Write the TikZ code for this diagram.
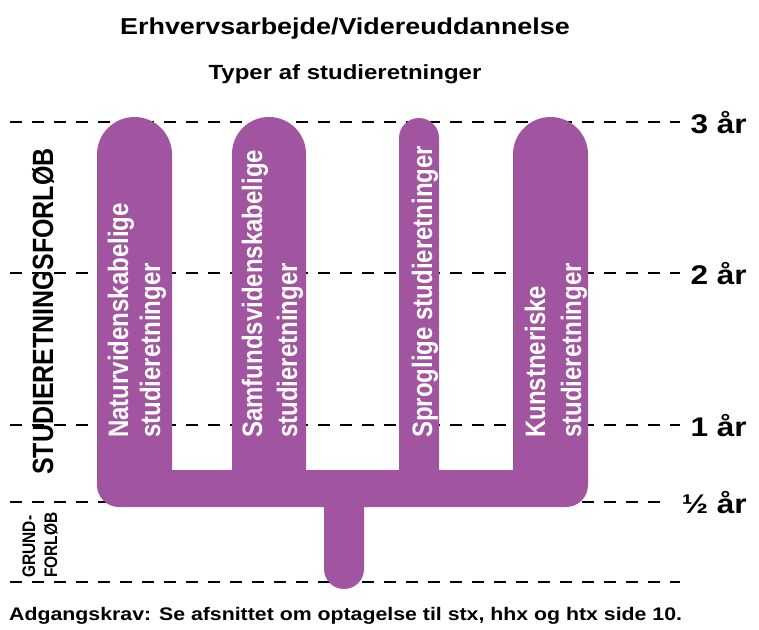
\documentclass[tikz,border=0pt]{standalone}
\usepackage{fontspec}
\setmainfont{Liberation Sans}
\usepackage{graphicx}
\definecolor{lilla}{RGB}{161,84,160}
\newcommand{\bred}[1]{\scalebox{1.17}[1]{#1}}
\newcommand{\hoej}[1]{\scalebox{1}[1.17]{#1}}

\begin{document}
\begin{tikzpicture}[x=1pt, y=-1pt,
    streg/.style={line width=2pt, dash pattern=on 12pt off 10pt},
    retning/.style={white, rotate=90, anchor=base west, inner sep=0pt,
        font=\fontsize{24}{28}\selectfont\bfseries},
    aar/.style={anchor=base east, inner sep=0pt, font=\fontsize{27}{30}\selectfont\bfseries}]
    \useasboundingbox (0,0) rectangle (759,629);

    \coordinate (L3) at (10,122);
    \coordinate (R3) at (680,122);
    \coordinate (L2) at (10,273);
    \coordinate (R2) at (680,273);
    \coordinate (L1) at (10,425);
    \coordinate (R1) at (680,425);
    \coordinate (Lh) at (10,502);
    \coordinate (Rh) at (668,502);
    \coordinate (L0) at (10,582);
    \coordinate (R0) at (680,582);

    \draw[streg] (L3) -- (R3);
    \draw[streg] (L2) -- (R2);
    \draw[streg] (L1) -- (R1);
    \draw[streg] (Lh) -- (Rh);
    \draw[streg] (L0) -- (R0);

    % the fork of study lines
    \fill[lilla] (97,300) [rounded corners=37.5] -- (97,117) -- (172,117)
        [sharp corners] -- (172,470) -- (232,470) [rounded corners=37] -- (232,117) -- (306,117)
        [sharp corners] -- (306,470) -- (399,470) [rounded corners=20] -- (399,118) -- (439,118)
        [sharp corners] -- (439,470) -- (513,470) [rounded corners=37.5] -- (513,117) -- (588,117)
        [rounded corners=22] -- (588,507) [sharp corners] -- (364,507)
        [rounded corners=20] -- (364,589) -- (324,589) [sharp corners] -- (324,507)
        [rounded corners=22] -- (97,507) -- cycle;

    \node[retning] (nat1) at (128,438) {\hoej{Naturvidenskabelige}};
    \node[retning] (nat2) at (160,438) {\hoej{studieretninger}};
    \node[retning] (sam1) at (262,438) {\hoej{Samfundsvidenskabelige}};
    \node[retning] (sam2) at (297,438) {\hoej{studieretninger}};
    \node[retning] (spr) at (432,438) {\hoej{Sproglige studieretninger}};
    \node[retning] (kun1) at (545,438) {\hoej{Kunstneriske}};
    \node[retning] (kun2) at (581,438) {\hoej{studieretninger}};

    \node[anchor=base, font=\fontsize{23}{26}\selectfont\bfseries] (titel) at (345,34) {\bred{Erhvervsarbejde/Videreuddannelse}};
    \node[anchor=base, font=\fontsize{20.5}{24}\selectfont\bfseries] (typer) at (345,79) {\bred{Typer af studieretninger}};
    \node[anchor=base west, inner sep=0pt, font=\fontsize{18.2}{21}\selectfont\bfseries] (krav) at (9,620) {\bred{Adgangskrav: Se afsnittet om optagelse til stx, hhx og htx side 10.}};

    \node[aar] (a3) at (747,133) {\bred{3 år}};
    \node[aar] (a2) at (747,284) {\bred{2 år}};
    \node[aar] (a1) at (747,436) {\bred{1 år}};
    \node[aar] (ah) at (747,513) {\bred{½ år}};

    \node[rotate=90, anchor=base west, inner sep=0pt, font=\fontsize{25}{28}\selectfont\bfseries] (forloeb) at (53,475) {\hoej{STUDIERETNINGSFORLØB}};
    \node[rotate=90, anchor=base west, inner sep=0pt, font=\fontsize{15.5}{18}\selectfont\bfseries] (grund1) at (35,578) {\hoej{GRUND-}};
    \node[rotate=90, anchor=base west, inner sep=0pt, font=\fontsize{15.5}{18}\selectfont\bfseries] (grund2) at (57,578) {\hoej{FORLØB}};
\end{tikzpicture}
\end{document}
